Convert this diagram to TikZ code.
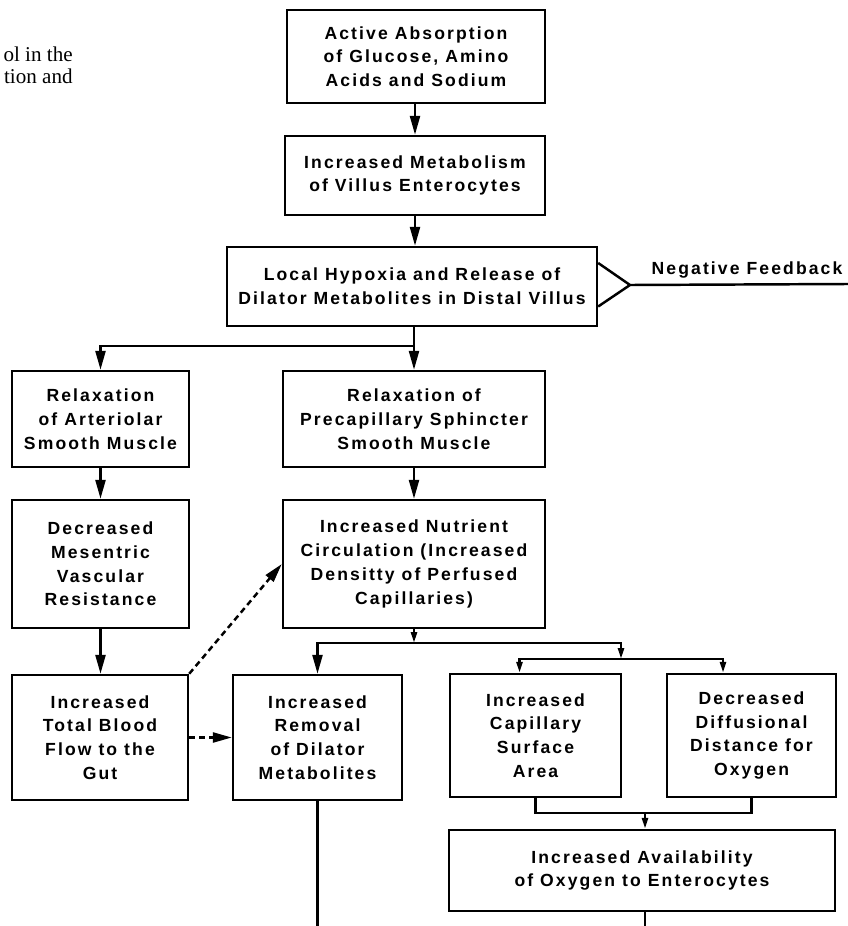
\documentclass[tikz,border=0pt]{standalone}
\usepackage{fontspec}
\setmainfont{Liberation Serif}
\newfontfamily\boxfont[LetterSpace=12]{Liberation Sans}
\usepackage{tikz}
\usetikzlibrary{arrows.meta}

\begin{document}
\begin{tikzpicture}[x=0.02cm, y=-0.02cm,
    box/.style={draw, line width=1.4pt, inner sep=0pt, align=center, font=\boxfont\bfseries\fontsize{10}{13.5}\selectfont},
    label/.style={font=\boxfont\bfseries\fontsize{10}{13.5}\selectfont},
    pagetext/.style={anchor=base east, inner sep=0pt, font=\fontsize{12}{14}\selectfont},
    link/.style={line width=1.4pt},
    edge/.style={-{Triangle[length=0.38cm, width=0.2cm]}, line width=1.4pt},
    tip/.style={-{Triangle[length=0.22cm, width=0.12cm]}, line width=1.4pt},
    dashedge/.style={-{Triangle[length=0.38cm, width=0.2cm]}, line width=1.4pt, dash pattern=on 0.12cm off 0.08cm}
]
    \useasboundingbox (0,0) rectangle (848,926);
    \node[pagetext] (page1) at (73,62) {ol in the};
    \node[pagetext] (page2) at (73,84) {tion and};
    \node[box, minimum width=5.16cm, minimum height=1.86cm] (abs) at (416,56.5) {Active Absorption\\of Glucose, Amino\\Acids and Sodium};
    \node[box, minimum width=5.2cm, minimum height=1.58cm] (met) at (415,175.5) {Increased Metabolism\\of Villus Enterocytes};
    \node[box, minimum width=7.4cm, minimum height=1.58cm] (hyp) at (412,286.5) {Local Hypoxia and Release of\\Dilator Metabolites in Distal Villus};
    \node[box, minimum width=3.54cm, minimum height=1.92cm] (art) at (100.5,419) {Relaxation\\of Arteriolar\\Smooth Muscle};
    \node[box, minimum width=5.24cm, minimum height=1.92cm] (pre) at (414,419) {Relaxation of\\Precapillary Sphincter\\Smooth Muscle};
    \node[box, minimum width=3.54cm, minimum height=2.56cm] (mes) at (100.5,564) {Decreased\\Mesentric\\Vascular\\Resistance};
    \node[box, minimum width=5.24cm, minimum height=2.56cm] (nut) at (414,564) {Increased Nutrient\\Circulation (Increased\\Densitty of Perfused\\Capillaries)};
    \node[box, minimum width=3.52cm, minimum height=2.5cm] (flow) at (100,737.5) {Increased\\Total Blood\\Flow to the\\Gut};
    \node[box, minimum width=3.38cm, minimum height=2.5cm] (rem) at (317.5,737.5) {Increased\\Removal\\of Dilator\\Metabolites};
    \node[box, minimum width=3.42cm, minimum height=2.46cm] (cap) at (535.5,735.5) {Increased\\Capillary\\Surface\\Area};
    \node[box, minimum width=3.38cm, minimum height=2.46cm] (dif) at (751.5,735.5) {Decreased\\Diffusional\\Distance for\\Oxygen};
    \node[box, minimum width=7.72cm, minimum height=1.62cm] (oxy) at (642,870.5) {Increased Availability\\of Oxygen to Enterocytes};
    \node[label] (fbtext) at (747,270) {Negative Feedback};
    \coordinate (fb) at (630,285);
    \coordinate (fbend) at (848,284);
    \coordinate (split) at (414,346);
    \coordinate (split2) at (414,643);
    \coordinate (split3) at (621,659);
    \coordinate (join) at (645,813);
    \coordinate (out1) at (314,926);
    \coordinate (out2) at (645,926);
    \draw[edge] (abs.south -| met.north) -- (met.north);
    \draw[edge] (met.south) -- (met.south |- hyp.north);
    \draw[link] ([yshift=0.47cm]hyp.east) -- (fb) -- ([yshift=-0.4cm]hyp.east);
    \draw[link] (fb) -- (fbend);
    \draw[link] (hyp.south -| split) -- (split);
    \draw[edge] (split) -- (pre.north);
    \draw[edge] (split) -| (art.north);
    \draw[edge] (art.south) -- (mes.north);
    \draw[edge] (mes.south) -- (mes.south |- flow.north);
    \draw[edge] (pre.south) -- (nut.north);
    \draw[dashedge] (flow.north east) -- (nut.west);
    \draw[dashedge] (flow.east) -- (rem.west);
    \draw[tip] (nut.south) -- (split2);
    \draw[edge] (split2) -| (rem.north);
    \draw[tip] (split2) -| (split3);
    \draw[tip] (split3) -| ([xshift=-0.32cm]cap.north);
    \draw[tip] (split3) -| ([xshift=-0.57cm]dif.north);
    \draw[link] (cap.south) |- (join) -| (dif.south);
    \draw[tip] (join) -- (join |- oxy.north);
    \draw[link] (rem.south) -- (rem.south |- out1);
    \draw[link] (oxy.south -| out2) -- (out2);
\end{tikzpicture}
\end{document}
